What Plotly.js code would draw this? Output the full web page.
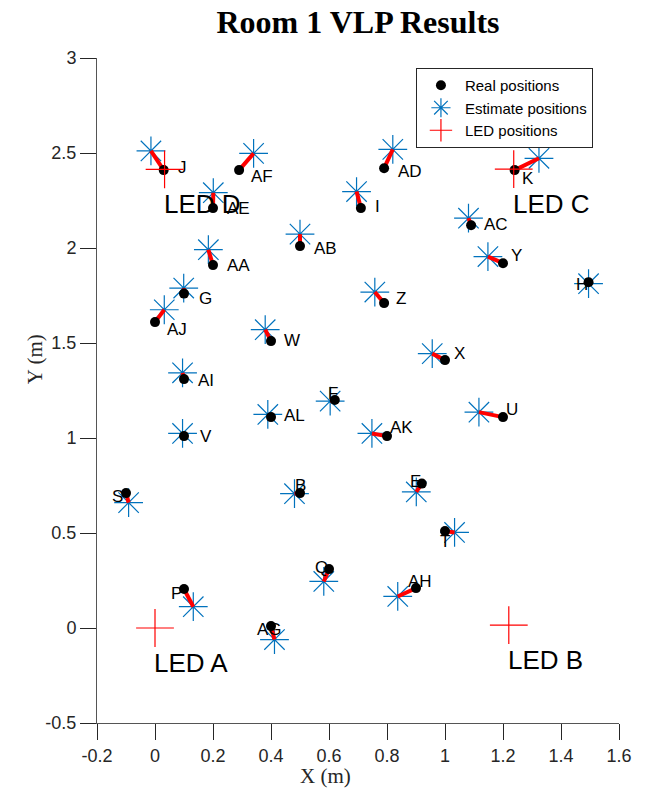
<!DOCTYPE html>
<html>
<head>
<meta charset="utf-8">
<script src="https://cdn.plot.ly/plotly-3.0.1.min.js"></script>
<style>html,body{margin:0;padding:0;background:#fff;}#chart{width:645px;height:789px;}</style>
</head>
<body>
<div id="chart"></div>
<script>
// ---- data ----
const pointNames = ['J','AF','AE','AA','G','AJ','AD','I','AB','Z','K','AC','Y','H','W','AI','AL','V','S','B','X','F','U','AK','E','T','Q','AH','P','AG'];
const realX = [0.03, 0.29, 0.20, 0.20, 0.10, 0.00, 0.79, 0.71, 0.50, 0.79, 1.24, 1.09, 1.20, 1.495, 0.40, 0.10, 0.40, 0.10, -0.10, 0.50, 1.00, 0.62, 1.20, 0.80, 0.92, 1.00, 0.60, 0.90, 0.10, 0.40];
const realY = [2.41, 2.41, 2.21, 1.91, 1.76, 1.61, 2.42, 2.21, 2.01, 1.71, 2.41, 2.12, 1.92, 1.82, 1.51, 1.31, 1.11, 1.01, 0.71, 0.71, 1.41, 1.20, 1.11, 1.01, 0.76, 0.51, 0.31, 0.21, 0.205, 0.01];
const estX = [-0.014, 0.340, 0.201, 0.184, 0.099, 0.032, 0.820, 0.695, 0.500, 0.758, 1.324, 1.081, 1.148, 1.495, 0.380, 0.095, 0.389, 0.095, -0.091, 0.481, 0.956, 0.604, 1.117, 0.748, 0.901, 1.033, 0.582, 0.837, 0.132, 0.412];
const estY = [2.511, 2.498, 2.291, 1.991, 1.789, 1.675, 2.519, 2.297, 2.073, 1.768, 2.472, 2.157, 1.955, 1.812, 1.570, 1.343, 1.124, 1.024, 0.660, 0.707, 1.444, 1.194, 1.136, 1.024, 0.716, 0.503, 0.245, 0.166, 0.112, -0.061];
const ledNames = ['LED A','LED B','LED C','LED D'];
const ledX = [0.00, 1.22, 1.237, 0.033];
const ledY = [0.00, 0.015, 2.415, 2.414];
const xTickVals = [-0.2, 0, 0.2, 0.4, 0.6, 0.8, 1, 1.2, 1.4, 1.6];
const xTickText = ['-0.2','0','0.2','0.4','0.6','0.8','1','1.2','1.4','1.6'];
const yTickVals = [-0.5, 0, 0.5, 1, 1.5, 2, 2.5, 3];
const yTickText = ['-0.5','0','0.5','1','1.5','2','2.5','3'];
const xTitle = 'X (m)';
const yTitle = 'Y (m)';

// ---- label placement (pixel offsets, style only) ----
const labelDX = [12,10,12,12,13,10,12,12,12,10,5,11,6,-15,11,12,11,14,-16,-7,7,-9,1,1,-14,-7,-16,-10,-15,-16];
const labelDY = [3,-6,0,0,-5,-7,-3,2,-2,5,-8,1,8,-2,1,-1,2,0,-3,8,7,7,8,9,2,-10,2,7,-4,-3];

// error lines built from the arrays
const errX = [], errY = [];
for (let i = 0; i < realX.length; i++) {
  errX.push(realX[i], estX[i], null);
  errY.push(realY[i], estY[i], null);
}

const traces = [
  {x: estX, y: estY, mode: 'markers', type: 'scatter', name: 'Estimate positions', legendrank: 2,
   marker: {symbol: 'asterisk-open', size: 24, color: '#0072BD', line: {color: '#0072BD', width: 1.2}}},
  {x: errX, y: errY, mode: 'lines', type: 'scatter', showlegend: false, hoverinfo: 'skip',
   line: {color: '#ff0000', width: 4}},
  {x: realX, y: realY, mode: 'markers', type: 'scatter', name: 'Real positions', legendrank: 1,
   marker: {symbol: 'circle', size: 10, color: '#000000'}},
  {x: ledX, y: ledY, mode: 'markers', type: 'scatter', name: 'LED positions', legendrank: 3,
   marker: {symbol: 'cross-thin-open', size: 27, color: '#ff0000', line: {color: '#ff0000', width: 1.2}}}
];

const annotations = [];
for (let i = 0; i < pointNames.length; i++) {
  annotations.push({x: realX[i], y: realY[i], xref: 'x', yref: 'y', text: pointNames[i], showarrow: false,
    xanchor: 'left', yanchor: 'middle', xshift: labelDX[i], yshift: labelDY[i],
    font: {family: 'Liberation Sans, Arial, sans-serif', size: 17, color: '#000'}});
}
for (let i = 0; i < ledNames.length; i++) {
  annotations.push({x: ledX[i], y: ledY[i], xref: 'x', yref: 'y', text: ledNames[i], showarrow: false,
    xanchor: 'left', yanchor: 'middle', xshift: -2, yshift: -35, borderpad: 0,
    font: {family: 'Liberation Sans, Arial, sans-serif', size: 26, color: '#000'}});
}
// axis titles (placed where the reference draws them)
annotations.push({x: 0.437, y: -0.08, xref: 'paper', yref: 'paper', text: xTitle, showarrow: false,
  xanchor: 'center', yanchor: 'middle',
  font: {family: 'Liberation Serif, Times New Roman, serif', size: 21, color: '#262626'}});
annotations.push({x: -0.119, y: 0.547, xref: 'paper', yref: 'paper', text: yTitle, showarrow: false,
  xanchor: 'center', yanchor: 'middle', textangle: -90,
  font: {family: 'Liberation Serif, Times New Roman, serif', size: 21, color: '#262626'}});

const axisCommon = {
  showline: true, linecolor: '#555', linewidth: 1, mirror: false,
  ticks: 'outside', ticklen: 16, tickcolor: '#262626', tickwidth: 1,
  showgrid: false, zeroline: false,
  tickfont: {family: 'Liberation Sans, Arial, sans-serif', size: 18, color: '#262626'}
};

const layout = {
  width: 645, height: 789,
  margin: {l: 97, r: 26, t: 58, b: 66, pad: 0},
  paper_bgcolor: '#fff', plot_bgcolor: '#fff',
  title: {text: '<b>Room 1 VLP Results</b>', x: 0.5, xref: 'paper', y: 0.973, yref: 'container', yanchor: 'middle',
    font: {family: 'Liberation Serif, Times New Roman, serif', size: 32, color: '#000'}},
  xaxis: Object.assign({}, axisCommon, {range: [-0.2, 1.6], tickmode: 'array', tickvals: xTickVals, ticktext: xTickText}),
  yaxis: Object.assign({}, axisCommon, {range: [-0.5, 3], tickmode: 'array', tickvals: yTickVals, ticktext: yTickText}),
  legend: {x: 0.611, y: 0.985, xanchor: 'left', yanchor: 'top', bgcolor: '#fff', bordercolor: '#262626', borderwidth: 1,
    itemwidth: 38,
    font: {family: 'Liberation Sans, Arial, sans-serif', size: 15, color: '#000'}, tracegroupgap: 0},
  annotations: annotations,
  showlegend: true
};

Plotly.newPlot('chart', traces, layout, {displayModeBar: false, staticPlot: true});
</script>
</body>
</html>
